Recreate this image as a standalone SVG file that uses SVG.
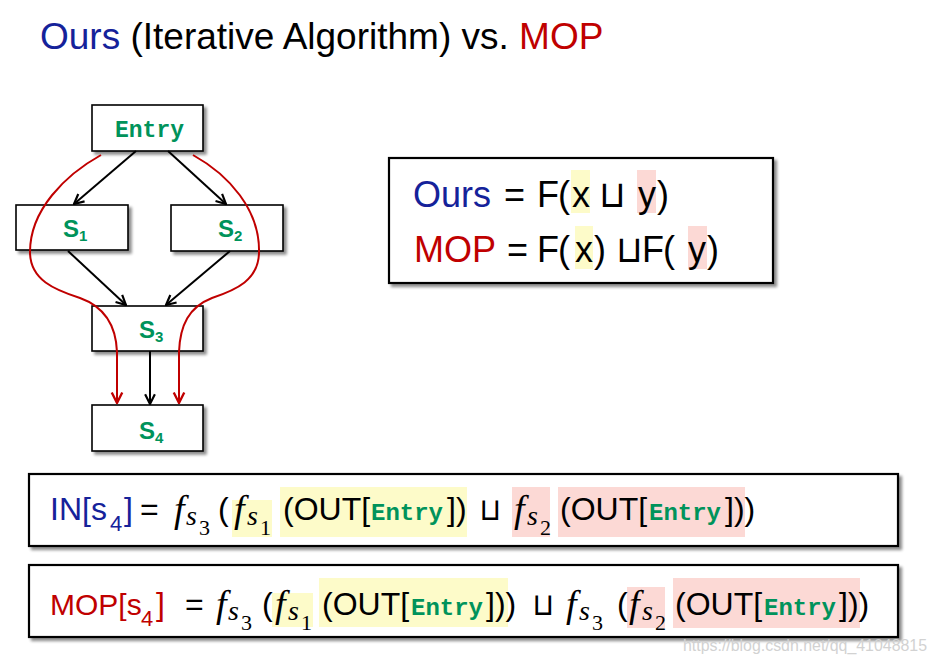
<svg xmlns="http://www.w3.org/2000/svg" width="937" height="664" viewBox="0 0 937 664">
<style>
.ar{font-family:"Liberation Sans",Arial,sans-serif}
.mono{font-family:"Liberation Mono","DejaVu Sans Mono",monospace;font-weight:bold;fill:#00935b}
.lbl{font-family:"Liberation Sans",Arial,sans-serif;font-weight:bold;fill:#00935b;font-size:24px}
.node{fill:#fff;stroke:#000;stroke-width:1.6}
.big{fill:#fff;stroke:#000;stroke-width:2.2}
.fi{font-family:"Liberation Serif","DejaVu Serif",serif;font-style:italic;font-size:38px}
.si{font-family:"Liberation Serif","DejaVu Serif",serif;font-style:italic;font-size:28px}
.sd{font-family:"Liberation Serif","DejaVu Serif",serif;font-size:22px}
.cup{font-family:"DejaVu Sans Mono","DejaVu Sans",monospace}
.blue{fill:#15229a}
.red{fill:#c00000}
.yl{fill:#fdfbc9}
.pk{fill:#fcd9d5}
.blk{stroke:#000;stroke-width:2;fill:none}
.rd{stroke:#c00000;stroke-width:2;fill:none}
</style>
<defs>
<filter id="sh" x="-10%" y="-10%" width="130%" height="140%">
<feGaussianBlur in="SourceAlpha" stdDeviation="1.5"/>
<feOffset dx="3" dy="3" result="o"/>
<feComponentTransfer><feFuncA type="linear" slope="0.45"/></feComponentTransfer>
<feMerge><feMergeNode/><feMergeNode in="SourceGraphic"/></feMerge>
</filter>
<marker id="ab" viewBox="0 0 12 12" refX="11" refY="6" markerWidth="13" markerHeight="13" orient="auto" markerUnits="userSpaceOnUse">
<path d="M2,1.5 L11,6 L2,10.5" fill="none" stroke="#000" stroke-width="2"/>
</marker>
<marker id="ar" viewBox="0 0 12 12" refX="11" refY="6" markerWidth="14" markerHeight="14" orient="auto" markerUnits="userSpaceOnUse">
<path d="M2,1.5 L11,6 L2,10.5" fill="none" stroke="#c00000" stroke-width="2"/>
</marker>
</defs>
<rect width="937" height="664" fill="#fff"/>

<g id="title">
<text class="ar" x="40" y="49" font-size="37"><tspan class="blue">Ours</tspan> (Iterative Algorithm) vs. <tspan class="red">MOP</tspan></text>
</g>

<g id="entry">
<rect class="node" x="92" y="105" width="111" height="46" filter="url(#sh)"/>
<text class="mono" x="115" y="137" font-size="23">Entry</text>
</g>
<g id="s1">
<rect class="node" x="16" y="205" width="112" height="45" filter="url(#sh)"/>
<text class="lbl" x="63" y="237">S<tspan font-size="15" dy="4">1</tspan></text>
</g>
<g id="s2">
<rect class="node" x="171" y="205" width="112" height="46" filter="url(#sh)"/>
<text class="lbl" x="218" y="237">S<tspan font-size="15" dy="4">2</tspan></text>
</g>
<g id="s3">
<rect class="node" x="92" y="306" width="111" height="45" filter="url(#sh)"/>
<text class="lbl" x="139" y="338">S<tspan font-size="15" dy="4">3</tspan></text>
</g>
<g id="s4">
<rect class="node" x="92" y="405" width="111" height="46" filter="url(#sh)"/>
<text class="lbl" x="139" y="439">S<tspan font-size="15" dy="4">4</tspan></text>
</g>

<g id="connectors">
<line class="blk" x1="136" y1="151" x2="74" y2="204" marker-end="url(#ab)"/>
<line class="blk" x1="168" y1="151" x2="226" y2="204" marker-end="url(#ab)"/>
<line class="blk" x1="68" y1="251" x2="126" y2="305" marker-end="url(#ab)"/>
<line class="blk" x1="230" y1="251" x2="166" y2="305" marker-end="url(#ab)"/>
<line class="blk" x1="150" y1="351" x2="150" y2="404" marker-end="url(#ab)"/>
<path class="rd" d="M101,155 C65,175 30,210 30,252 C30,280 55,290 80,298 C105,307 116,325 117,352 L117,403" marker-end="url(#ar)"/>
<path class="rd" d="M193,155 C229,175 260,210 259,252 C259,280 236,290 212,298 C189,307 180,325 179,352 L179,403" marker-end="url(#ar)"/>
</g>

<g id="compare">
<rect class="big" x="389" y="158" width="384" height="125" filter="url(#sh)"/>
<rect class="yl" x="571" y="170" width="19" height="43"/>
<rect class="pk" x="637" y="170" width="19" height="43"/>
<rect class="yl" x="575" y="226" width="18" height="43"/>
<rect class="pk" x="688" y="226" width="19" height="43"/>
<text class="ar" font-size="36" y="207"><tspan class="blue" x="413">Ours</tspan><tspan x="504">=</tspan><tspan x="537">F</tspan><tspan x="558">(</tspan><tspan x="572">x</tspan><tspan class="cup" x="601" font-size="37">⊔</tspan><tspan x="638">y</tspan><tspan x="657">)</tspan></text>
<text class="ar" font-size="36" y="262"><tspan class="red" x="414">MOP</tspan><tspan x="507">=</tspan><tspan x="537">F</tspan><tspan x="558">(</tspan><tspan x="575">x</tspan><tspan x="594">)</tspan><tspan class="cup" x="618" font-size="37">⊔</tspan><tspan x="642">F</tspan><tspan x="663">(</tspan><tspan x="688">y</tspan><tspan x="707">)</tspan></text>
</g>

<g id="in-eq">
<rect class="big" x="29" y="474" width="869" height="72" filter="url(#sh)"/>
<rect class="yl" x="232" y="500" width="40" height="37"/>
<rect class="yl" x="280" y="487" width="187" height="50"/>
<rect class="pk" x="512" y="487" width="38" height="50"/>
<rect class="pk" x="558" y="487" width="187" height="50"/>
<text class="ar blue" x="50" y="520" font-size="32">IN[s</text>
<text class="ar blue" x="110" y="531" font-size="22">4</text>
<text class="ar blue" x="124" y="520" font-size="32">]</text>
<text class="ar" x="140" y="520" font-size="32">=</text>
<text class="fi" x="174" y="522">f</text><text class="si" x="186" y="525">s</text><text class="sd" x="199" y="535">3</text>
<text class="ar" x="218" y="520" font-size="32">(</text>
<text class="fi" x="234" y="522">f</text><text class="si" x="247" y="525">s</text><text class="sd" x="260" y="535">1</text>
<text class="ar" x="283" y="520" font-size="32">(OUT[</text>
<text class="mono" x="371" y="520" font-size="24">Entry</text>
<text class="ar" x="447" y="520" font-size="32">])</text>
<text class="cup" x="481" y="520" font-size="31">⊔</text>
<text class="fi" x="514" y="522">f</text><text class="si" x="527" y="525">s</text><text class="sd" x="540" y="535">2</text>
<text class="ar" x="560" y="520" font-size="32">(OUT[</text>
<text class="mono" x="649" y="520" font-size="24">Entry</text>
<text class="ar" x="725" y="520" font-size="32">]))</text>
</g>

<g id="mop-eq">
<rect class="big" x="29" y="565" width="869" height="72" filter="url(#sh)"/>
<rect class="yl" x="272" y="593" width="41" height="34"/>
<rect class="yl" x="319" y="578" width="189" height="49"/>
<rect class="pk" x="627" y="587" width="38" height="41"/>
<rect class="pk" x="673" y="578" width="187" height="50"/>
<text class="ar red" x="50" y="615" font-size="30">MOP[s</text>
<text class="ar red" x="141" y="626" font-size="22">4</text>
<text class="ar red" x="156" y="615" font-size="32">]</text>
<text class="ar" x="185" y="615" font-size="32">=</text>
<text class="fi" x="216" y="617">f</text><text class="si" x="228" y="620">s</text><text class="sd" x="241" y="630">3</text>
<text class="ar" x="262" y="615" font-size="32">(</text>
<text class="fi" x="275" y="617">f</text><text class="si" x="288" y="620">s</text><text class="sd" x="301" y="630">1</text>
<text class="ar" x="322" y="615" font-size="32">(OUT[</text>
<text class="mono" x="411" y="615" font-size="24">Entry</text>
<text class="ar" x="486" y="615" font-size="32">]))</text>
<text class="cup" x="534" y="615" font-size="31">⊔</text>
<text class="fi" x="566" y="617">f</text><text class="si" x="579" y="620">s</text><text class="sd" x="592" y="630">3</text>
<text class="ar" x="617" y="615" font-size="32">(</text>
<text class="fi" x="629" y="617">f</text><text class="si" x="642" y="620">s</text><text class="sd" x="655" y="630">2</text>
<text class="ar" x="675" y="615" font-size="32">(OUT[</text>
<text class="mono" x="764" y="615" font-size="24">Entry</text>
<text class="ar" x="839" y="615" font-size="32">]))</text>
</g>

<g id="watermark">
<text class="ar" x="683" y="651" font-size="16" fill="#d2d2d2" textLength="244" lengthAdjust="spacingAndGlyphs">https://blog.csdn.net/qq_41048815</text>
</g>
</svg>
